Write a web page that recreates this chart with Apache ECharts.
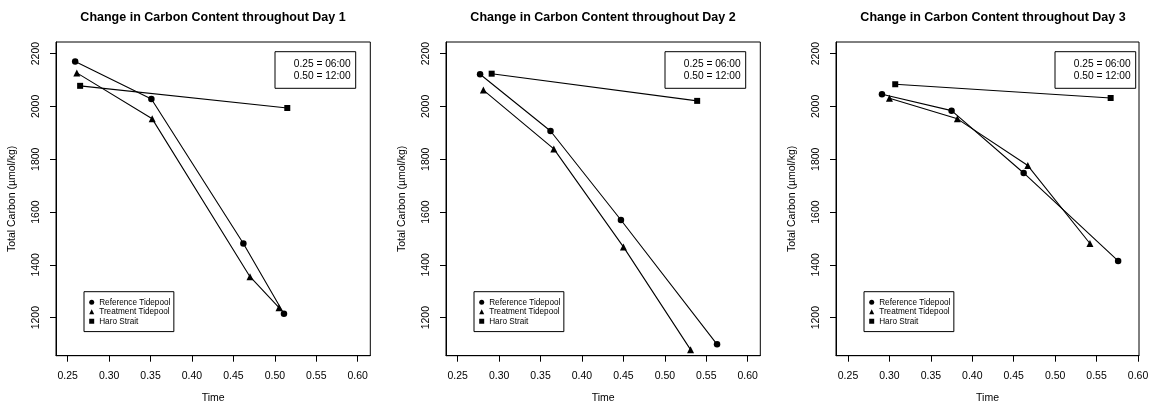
<!DOCTYPE html>
<html>
<head>
<meta charset="utf-8">
<script src="https://cdn.jsdelivr.net/npm/echarts@6/dist/echarts.min.js"></script>
<style>
  html, body { margin: 0; padding: 0; background: #fff; }
  #chart { width: 1151px; height: 404px; }
</style>
</head>
<body>
<div id="chart"></div>
<script>
// Time is a fraction of the day (0.25 = 06:00, 0.50 = 12:00); carbon in µmol/kg.
const seriesNames = ['Reference Tidepool', 'Treatment Tidepool', 'Haro Strait'];
const dayTitles = [
  'Change in Carbon Content throughout Day 1',
  'Change in Carbon Content throughout Day 2',
  'Change in Carbon Content throughout Day 3'
];
const xTickValues = [0.25, 0.30, 0.35, 0.40, 0.45, 0.50, 0.55, 0.60];
const yTickValues = [1200, 1400, 1600, 1800, 2000, 2200];
const timeNote = '0.25 = 06:00\n0.50 = 12:00';

// Day 1
const day1RefTime = [0.259, 0.351, 0.462, 0.511];
const day1RefCarbon = [2170, 2028, 1481, 1215];
const day1TrtTime = [0.261, 0.352, 0.470, 0.505];
const day1TrtCarbon = [2127, 1953, 1355, 1238];
const day1HaroTime = [0.265, 0.515];
const day1HaroCarbon = [2078, 1994];

// Day 2
const day2RefTime = [0.277, 0.362, 0.447, 0.563];
const day2RefCarbon = [2122, 1907, 1570, 1099];
const day2TrtTime = [0.281, 0.366, 0.450, 0.531];
const day2TrtCarbon = [2062, 1839, 1468, 1079];
const day2HaroTime = [0.291, 0.539];
const day2HaroCarbon = [2124, 2021];

// Day 3
const day3RefTime = [0.291, 0.375, 0.462, 0.576];
const day3RefCarbon = [2046, 1984, 1748, 1415];
const day3TrtTime = [0.300, 0.382, 0.467, 0.542];
const day3TrtCarbon = [2031, 1953, 1776, 1481];
const day3HaroTime = [0.307, 0.567];
const day3HaroCarbon = [2084, 2032];

const days = [
  [[day1RefTime, day1RefCarbon], [day1TrtTime, day1TrtCarbon], [day1HaroTime, day1HaroCarbon]],
  [[day2RefTime, day2RefCarbon], [day2TrtTime, day2TrtCarbon], [day2HaroTime, day2HaroCarbon]],
  [[day3RefTime, day3RefCarbon], [day3TrtTime, day3TrtCarbon], [day3HaroTime, day3HaroCarbon]]
];

const FONT = '"Liberation Sans", Arial, Helvetica, sans-serif';
const symbols = ['circle', 'triangle', 'rect'];
const symbolSizes = [6.5, 7, 6];

// panel frames: left, width, and the x extent (padded range around 0.25–0.60)
const panels = [
  { left: 56, width: 314.3, xMin: 0.23588, xMax: 0.61519 },
  { left: 446, width: 314.3, xMin: 0.23588, xMax: 0.61519 },
  { left: 836, width: 303, xMin: 0.23552, xMax: 0.60120 }
];
const plotTop = 42, plotHeight = 313.7;
const yMin = 1056, yMax = 2244;

const grid = [], xAxis = [], yAxis = [], series = [], legend = [], graphic = [];

panels.forEach((p, i) => {
  grid.push({
    left: p.left, top: plotTop, width: p.width, height: plotHeight,
    show: true, borderColor: '#000', borderWidth: 1, backgroundColor: 'transparent',
    containLabel: false, outerBoundsMode: 'none'
  });
  xAxis.push({
    type: 'value', gridIndex: i, min: p.xMin, max: p.xMax,
    name: 'Time', nameLocation: 'middle', nameGap: 37,
    nameTextStyle: { fontFamily: FONT, fontSize: 10.5, color: '#000' },
    axisLine: { show: true, onZero: false, lineStyle: { color: '#000', width: 1 } },
    axisTick: { show: true, inside: false, length: 6, customValues: xTickValues, lineStyle: { color: '#000' } },
    axisLabel: {
      show: true, customValues: xTickValues, margin: 15,
      fontFamily: FONT, fontSize: 10.5, color: '#000',
      formatter: v => v.toFixed(2)
    },
    splitLine: { show: false }
  });
  yAxis.push({
    type: 'value', gridIndex: i, min: yMin, max: yMax,
    name: 'Total Carbon (µmol/kg)', nameLocation: 'middle', nameGap: 38, nameRotate: 90,
    nameTextStyle: { fontFamily: FONT, fontSize: 10.5, color: '#000' },
    axisLine: { show: true, onZero: false, lineStyle: { color: '#000', width: 1 } },
    axisTick: { show: true, inside: false, length: 6, customValues: yTickValues, lineStyle: { color: '#000' } },
    axisLabel: {
      show: true, customValues: yTickValues, rotate: 90, margin: 14,
      fontFamily: FONT, fontSize: 10.5, color: '#000',
      formatter: v => String(v)
    },
    splitLine: { show: false }
  });

  days[i].forEach((pair, k) => {
    const [t, c] = pair;
    series.push({
      type: 'line', name: seriesNames[k], xAxisIndex: i, yAxisIndex: i,
      data: t.map((x, j) => [x, c[j]]),
      symbol: symbols[k], symbolSize: symbolSizes[k], showSymbol: true,
      itemStyle: { color: '#000' },
      lineStyle: { color: '#000', width: 1.1 },
      emphasis: { disabled: true },
      animation: false, z: 3
    });
  });

  legend.push({
    show: true, selectedMode: false, orient: 'vertical',
    left: p.left + 28, top: 291.7,
    padding: [5.8, 3.5, 5.6, 5.2],
    itemWidth: 5, itemHeight: 5, itemGap: 0,
    borderColor: '#000', borderWidth: 1, borderRadius: 0,
    backgroundColor: '#fff',
    textStyle: { fontFamily: FONT, fontSize: 8.2, color: '#000', lineHeight: 9.5, padding: [0, 0, 0, 0] },
    data: seriesNames.map((n, k) => ({ name: n, icon: symbols[k] }))
  });

  // panel title
  graphic.push({
    type: 'text', x: p.left + 157, y: 18,
    style: {
      text: dayTitles[i], fill: '#000',
      font: 'bold 12.5px ' + FONT, textAlign: 'center', textVerticalAlign: 'middle'
    }
  });
  // note box explaining the time scale
  graphic.push({
    type: 'rect', shape: { x: p.left + 219, y: 51.7, width: 80.7, height: 36.6 },
    style: { fill: '#fff', stroke: '#000', lineWidth: 1 }, z: 10
  });
  graphic.push({
    type: 'text', x: p.left + 294.7, y: 70.3,
    style: {
      text: timeNote, fill: '#000', font: '10.2px ' + FONT,
      textAlign: 'right', textVerticalAlign: 'middle', lineHeight: 12
    }, z: 11
  });
});

const chart = echarts.init(document.getElementById('chart'), null, { renderer: 'canvas' });
chart.setOption({
  animation: false,
  backgroundColor: '#fff',
  grid, xAxis, yAxis, series, legend, graphic
});
</script>
</body>
</html>
